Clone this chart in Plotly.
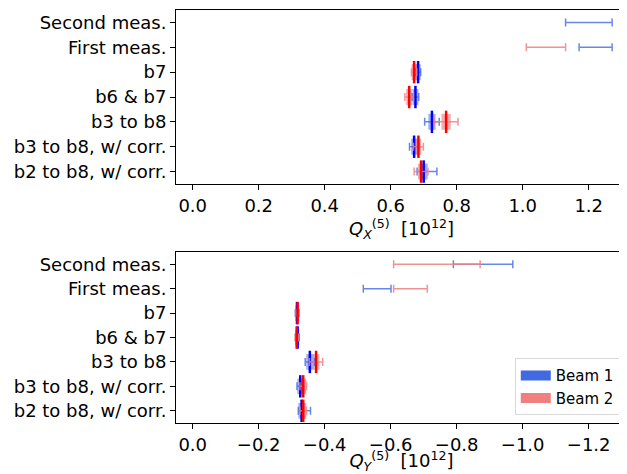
import plotly.graph_objects as go

# ---------------- data ----------------
categories = ["b2 to b8, w/ corr.", "b3 to b8, w/ corr.", "b3 to b8", "b6 & b7", "b7",
              "First meas.", "Second meas."]
sim_rows = ["b2 to b8, w/ corr.", "b3 to b8, w/ corr.", "b3 to b8", "b6 & b7", "b7"]
meas_rows = ["First meas.", "Second meas."]

# Q_X^(5) [1e12]
qx_b1_center = [0.700, 0.671, 0.725, 0.675, 0.683]
qx_b1_spread = [0.012, 0.009, 0.011, 0.009, 0.008]
qx_b1_err_plus = [0.040, 0.014, 0.022, 0.010, 0.008]
qx_b1_err_minus = [0.020, 0.014, 0.022, 0.010, 0.008]
qx_b2_center = [0.692, 0.684, 0.768, 0.656, 0.671]
qx_b2_spread = [0.009, 0.009, 0.014, 0.009, 0.008]
qx_b2_err = [0.021, 0.015, 0.036, 0.013, 0.008]
qx_meas_b1 = [1.221, 1.2005]
qx_meas_b1_err = [0.050, 0.0705]
qx_meas_b2 = [1.0705, None]
qx_meas_b2_err = [0.0595, 0.0]

# Q_Y^(5) [1e12]
qy_b1_center = [-0.330, -0.326, -0.355, -0.318, -0.316]
qy_b1_spread = [0.010, 0.009, 0.011, 0.005, 0.005]
qy_b1_err_plus = [0.010, 0.010, 0.014, 0.005, 0.005]
qy_b1_err_minus = [0.027, 0.010, 0.014, 0.005, 0.005]
qy_b2_center = [-0.335, -0.335, -0.374, -0.315, -0.318]
qy_b2_spread = [0.009, 0.009, 0.010, 0.005, 0.005]
qy_b2_err = [0.010, 0.010, 0.020, 0.005, 0.005]
qy_meas_b1 = [-0.559, -0.880]
qy_meas_b1_err = [0.042, 0.090]
qy_meas_b2 = [-0.660, -0.740]
qy_meas_b2_err = [0.051, 0.131]

x_ticks_top = [0.0, 0.2, 0.4, 0.6, 0.8, 1.0, 1.2]
x_ticks_bot = [0.0, -0.2, -0.4, -0.6, -0.8, -1.0, -1.2]

# ---------------- style ----------------
B1_ERR = "rgba(65,105,225,0.8)"
B2_ERR = "rgba(240,128,128,0.85)"
B1_LIGHT = "rgba(65,105,225,0.5)"
B2_LIGHT = "rgba(240,128,128,0.65)"
B1_DARK = "#0000ff"
B2_DARK = "#ff0000"
FONT = "DejaVu Sans"

fig = go.Figure()


def add_sim(center, spread, eplus, eminus, light, dark, errc, xa, ya):
    fig.add_trace(go.Bar(
        y=sim_rows, x=[2 * s for s in spread],
        base=[c - s for c, s in zip(center, spread)],
        orientation="h", width=0.64, marker=dict(color=light, line=dict(width=0)),
        showlegend=False, xaxis=xa, yaxis=ya, hoverinfo="skip"))
    fig.add_trace(go.Scatter(
        y=sim_rows, x=center, mode="markers",
        marker=dict(symbol="line-ns", size=16, color=dark,
                    line=dict(width=2.5, color=dark)),
        error_x=dict(type="data", symmetric=False, array=eplus, arrayminus=eminus,
                     color=errc, thickness=1.5, width=4),
        showlegend=False, xaxis=xa, yaxis=ya))


def add_meas(center, err, errc, xa, ya):
    fig.add_trace(go.Scatter(
        y=meas_rows, x=center, mode="markers",
        marker=dict(size=0.1, color="rgba(0,0,0,0)"),
        error_x=dict(type="data", array=err, color=errc, thickness=1.5, width=4),
        showlegend=False, xaxis=xa, yaxis=ya))


# top panel
add_sim(qx_b1_center, qx_b1_spread, qx_b1_err_plus, qx_b1_err_minus,
        B1_LIGHT, B1_DARK, B1_ERR, "x", "y")
add_sim(qx_b2_center, qx_b2_spread, qx_b2_err, qx_b2_err,
        B2_LIGHT, B2_DARK, B2_ERR, "x", "y")
add_meas(qx_meas_b1, qx_meas_b1_err, B1_ERR, "x", "y")
add_meas(qx_meas_b2, qx_meas_b2_err, B2_ERR, "x", "y")

# bottom panel
add_sim(qy_b1_center, qy_b1_spread, qy_b1_err_plus, qy_b1_err_minus,
        B1_LIGHT, B1_DARK, B1_ERR, "x2", "y2")
add_sim(qy_b2_center, qy_b2_spread, qy_b2_err, qy_b2_err,
        B2_LIGHT, B2_DARK, B2_ERR, "x2", "y2")
add_meas(qy_meas_b1, qy_meas_b1_err, B1_ERR, "x2", "y2")
add_meas(qy_meas_b2, qy_meas_b2_err, B2_ERR, "x2", "y2")

# legend entries
fig.add_trace(go.Scatter(x=[None], y=[None], mode="lines", name="Beam 1",
                         line=dict(color="royalblue", width=12), xaxis="x2", yaxis="y2"))
fig.add_trace(go.Scatter(x=[None], y=[None], mode="lines", name="Beam 2",
                         line=dict(color="lightcoral", width=12), xaxis="x2", yaxis="y2"))

axis_common = dict(showline=True, linecolor="black", linewidth=1, ticks="outside",
                   ticklen=5, tickwidth=1, tickcolor="black", showgrid=False,
                   zeroline=False, automargin=False,
                   tickfont=dict(family=FONT, size=18, color="black"))

title_x = "<i>Q</i><sub><i>X</i></sub><sup>(5)</sup>\u00a0\u00a0[10<sup>12</sup>]"
title_y = "<i>Q</i><sub><i>Y</i></sub><sup>(5)</sup>\u00a0\u00a0[10<sup>12</sup>]"

# page body adds an 8px offset; size and margins compensate so the plot sits as in the reference
fig.update_layout(
    width=619, height=466,
    margin=dict(l=168, r=0, t=2, b=51),
    paper_bgcolor="white", plot_bgcolor="white",
    barmode="overlay",
    font=dict(family=FONT, size=18, color="black"),
    xaxis=dict(**axis_common, anchor="y", domain=[0, 1], range=[-0.0506, 1.3161],
               mirror=True, tickvals=x_ticks_top,
               ticktext=[f"{v:.1f}" for v in x_ticks_top],
               title=dict(text=title_x, standoff=0, font=dict(family=FONT, size=18))),
    yaxis=dict(**axis_common, anchor="x", domain=[0.5787, 1.0], type="category",
               categoryorder="array", categoryarray=categories, range=[-0.5, 6.5]),
    xaxis2=dict(**axis_common, anchor="y2", domain=[0, 1], range=[0.0506, -1.3161],
                mirror=True, tickvals=x_ticks_bot,
                ticktext=[f"{v:.1f}".replace("-", "\u2212") for v in x_ticks_bot],
                title=dict(text=title_y, standoff=0, font=dict(family=FONT, size=18))),
    yaxis2=dict(**axis_common, anchor="x2", domain=[0.0, 0.414], type="category",
                categoryorder="array", categoryarray=categories, range=[-0.5, 6.5]),
    legend=dict(x=0.984, y=0.019, xanchor="right", yanchor="bottom",
                bgcolor="white", bordercolor="#d9d9d9", borderwidth=1,
                font=dict(family=FONT, size=15, color="black"),
                itemwidth=30, tracegroupgap=0),
    showlegend=True,
)

fig.write_html("out.html")
